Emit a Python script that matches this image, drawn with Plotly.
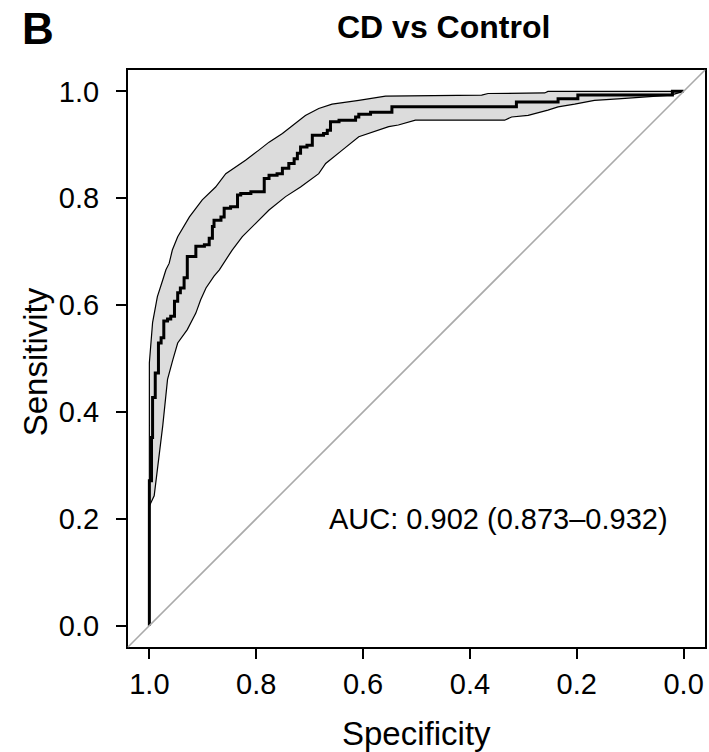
import plotly.graph_objects as go

# ---- data ----
# ROC curve vertices (specificity, sensitivity); drawn as a step line
curve_spec = [1.0, 1.0, 0.996, 0.994, 0.989, 0.983, 0.978, 0.973, 0.966, 0.960,
              0.953, 0.947, 0.942, 0.935, 0.929, 0.913, 0.897, 0.888, 0.882,
              0.879, 0.866, 0.860, 0.848, 0.835, 0.829, 0.810, 0.785, 0.776,
              0.761, 0.751, 0.739, 0.729, 0.723, 0.717, 0.705, 0.695, 0.674,
              0.667, 0.661, 0.645, 0.614, 0.608, 0.586, 0.546, 0.313, 0.235,
              0.198, 0.021, 0.0]
curve_sens = [0.0, 0.271, 0.352, 0.427, 0.473, 0.529, 0.539, 0.570, 0.574, 0.579,
              0.607, 0.623, 0.632, 0.651, 0.691, 0.710, 0.713, 0.725, 0.747,
              0.759, 0.765, 0.781, 0.784, 0.806, 0.809, 0.812, 0.837, 0.843,
              0.846, 0.856, 0.865, 0.874, 0.884, 0.896, 0.899, 0.918, 0.921,
              0.927, 0.943, 0.946, 0.952, 0.957, 0.961, 0.971, 0.980, 0.986,
              0.993, 1.0, 1.0]

# Confidence band: upper edge
ci_up_spec = [1.0, 1.0, 0.994, 0.985, 0.975, 0.969, 0.963, 0.957, 0.947, 0.925,
              0.901, 0.876, 0.857, 0.838, 0.820, 0.795, 0.776, 0.751, 0.726,
              0.708, 0.683, 0.658, 0.608, 0.558, 0.378, 0.366, 0.260, 0.254, 0.0]
ci_up_sens = [0.224, 0.492, 0.567, 0.616, 0.647, 0.666, 0.678, 0.703, 0.728, 0.765,
              0.797, 0.821, 0.846, 0.859, 0.871, 0.890, 0.905, 0.921, 0.940,
              0.955, 0.968, 0.976, 0.983, 0.991, 0.993, 0.996, 0.997, 1.0, 1.0]
# Confidence band: lower edge
ci_lo_spec = [1.0, 0.991, 0.985, 0.975, 0.966, 0.956, 0.947, 0.929, 0.913, 0.904,
              0.894, 0.879, 0.869, 0.845, 0.826, 0.801, 0.776, 0.745, 0.717,
              0.683, 0.670, 0.639, 0.608, 0.590, 0.552, 0.534, 0.502, 0.335,
              0.322, 0.291, 0.254, 0.235, 0.204, 0.167, 0.123, 0.024, 0.0]
ci_lo_sens = [0.224, 0.243, 0.293, 0.374, 0.461, 0.498, 0.529, 0.554, 0.585, 0.610,
              0.632, 0.654, 0.666, 0.703, 0.728, 0.753, 0.778, 0.803, 0.821,
              0.846, 0.865, 0.890, 0.915, 0.921, 0.934, 0.937, 0.946, 0.946,
              0.952, 0.955, 0.965, 0.971, 0.976, 0.983, 0.986, 0.993, 1.0]

tick_vals = [1.0, 0.8, 0.6, 0.4, 0.2, 0.0]
tick_text = ["1.0", "0.8", "0.6", "0.4", "0.2", "0.0"]

title_text = "CD vs Control"
panel_label = "B"
auc_text = "AUC: 0.902 (0.873\u20130.932)"
x_title = "Specificity"
y_title = "Sensitivity"

FONT = "Liberation Sans, Arial, Helvetica, sans-serif"
W, H = 709, 752
ML, MR, MT, MB = 128, 2, 70, 105

def px_x(px):
    return (px - ML) / (W - ML - MR)

def px_y(py):
    return (H - MB - py) / (H - MT - MB)

fig = go.Figure()

# band polygon
band_x = ci_up_spec + ci_lo_spec[::-1]
band_y = ci_up_sens + ci_lo_sens[::-1]
fig.add_trace(go.Scatter(x=band_x, y=band_y, fill="toself", fillcolor="#dcdcdc",
                         mode="lines", line=dict(color="black", width=1.2),
                         hoverinfo="skip", showlegend=False))

# ROC curve
fig.add_trace(go.Scatter(x=curve_spec, y=curve_sens, mode="lines",
                         line=dict(color="black", width=3, shape="hv"),
                         showlegend=False))

# diagonal reference line
fig.add_shape(type="line", xref="x domain", yref="y domain",
              x0=0, y0=0, x1=1, y1=1,
              line=dict(color="#aaaaaa", width=1.6), layer="above")

axis_common = dict(
    tickvals=tick_vals, ticktext=tick_text, ticks="outside", ticklen=10,
    tickwidth=2, tickcolor="black", showline=True, linewidth=2,
    linecolor="black", mirror=True, showgrid=False, zeroline=False,
    tickfont=dict(family=FONT, size=29, color="black"),
)

fig.update_xaxes(range=[1.04, -0.04], ticklabelstandoff=0, **axis_common)
fig.update_yaxes(range=[-0.04, 1.04], ticklabelstandoff=11, **axis_common)

annotations = [
    dict(text=x_title, x=px_x(418), y=px_y(733), xref="paper", yref="paper",
         showarrow=False, xanchor="center", yanchor="middle",
         font=dict(family=FONT, size=33, color="black")),
    dict(text=y_title, x=px_x(36), y=px_y(362), xref="paper", yref="paper",
         showarrow=False, xanchor="center", yanchor="middle", textangle=-90,
         font=dict(family=FONT, size=33, color="black")),
    dict(text="<b>" + title_text + "</b>", x=px_x(445), y=px_y(27),
         xref="paper", yref="paper", showarrow=False, xanchor="center",
         yanchor="middle", font=dict(family=FONT, size=32, color="black")),
    dict(text="<b>" + panel_label + "</b>", x=px_x(38), y=px_y(29),
         xref="paper", yref="paper", showarrow=False, xanchor="center",
         yanchor="middle", font=dict(family=FONT, size=44, color="black")),
    dict(text=auc_text, x=0.668, y=0.2, xref="x", yref="y",
         showarrow=False, xanchor="left", yanchor="middle",
         font=dict(family=FONT, size=29, color="black")),
]

fig.update_layout(
    width=W, height=H,
    margin=dict(l=ML, r=MR, t=MT, b=MB),
    paper_bgcolor="white", plot_bgcolor="white",
    annotations=annotations, showlegend=False,
)

fig.write_html("out.html", config={"displayModeBar": False},
               post_script="document.body.style.margin='0';"
                           "document.body.style.overflow='hidden';")
